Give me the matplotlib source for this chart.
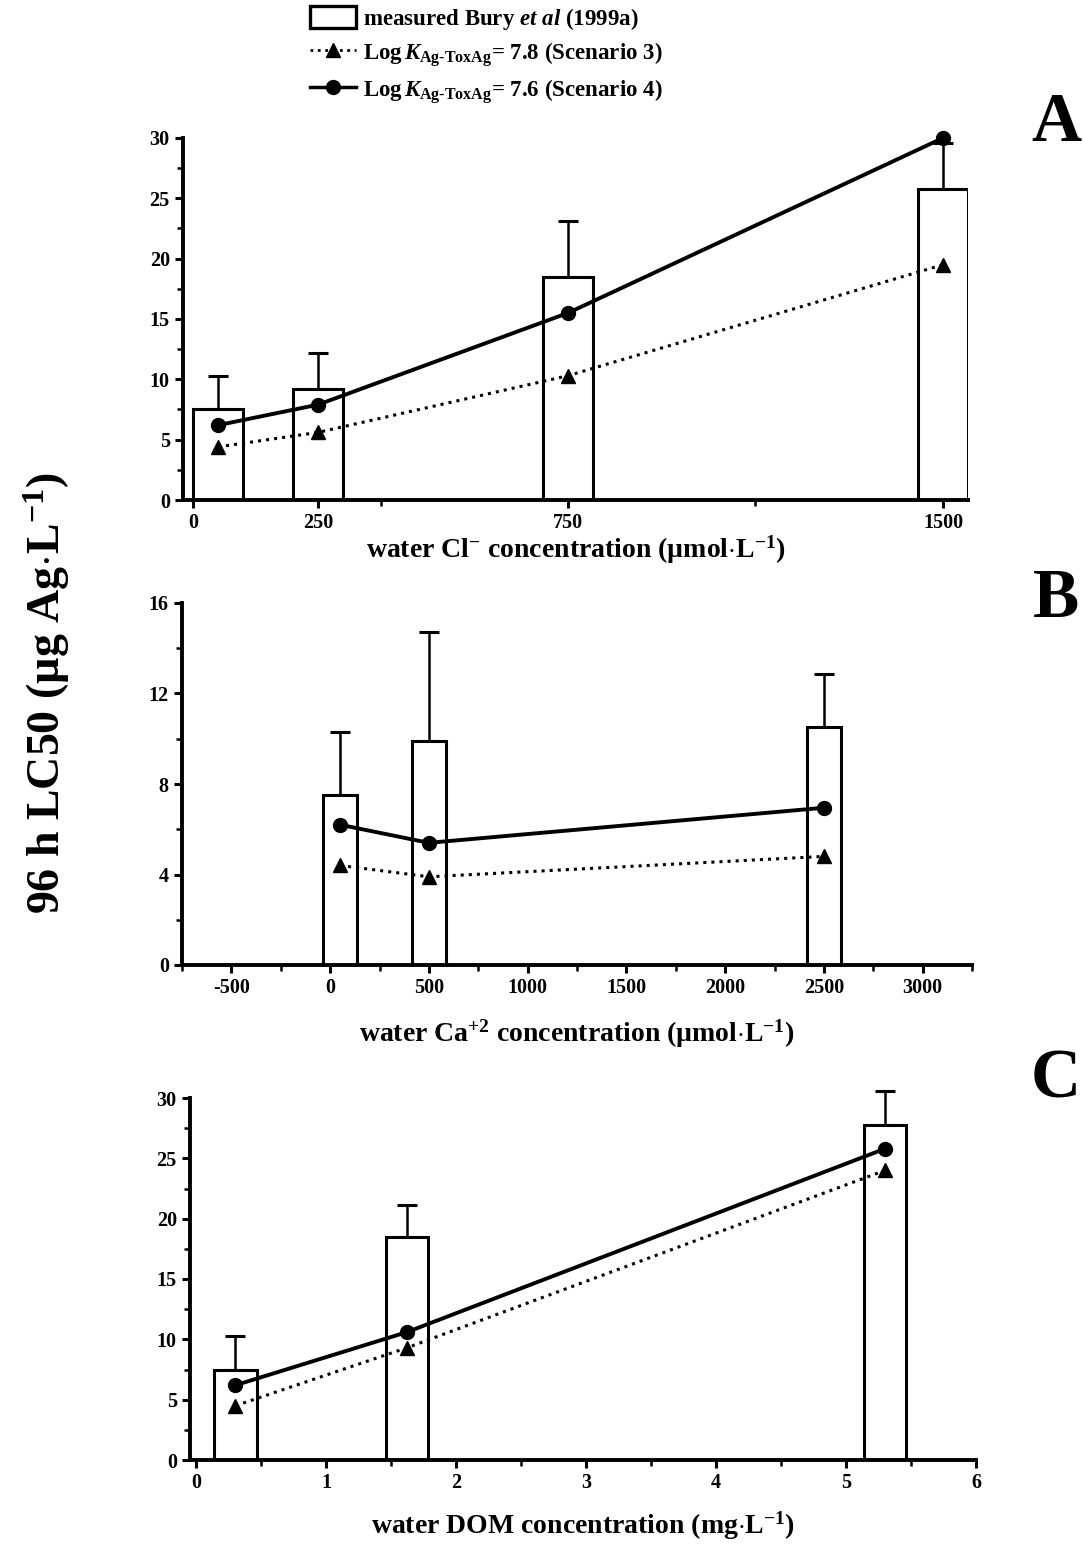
import matplotlib
matplotlib.use("Agg")
import matplotlib.pyplot as plt
from matplotlib.lines import Line2D
from matplotlib.patches import Patch
from matplotlib.ticker import FixedLocator, MultipleLocator

plt.rcParams['font.family'] = ['Liberation Serif', 'DejaVu Serif']
plt.rcParams['font.weight'] = 'bold'
plt.rcParams['axes.unicode_minus'] = False
plt.rcParams['mathtext.fontset'] = 'custom'
plt.rcParams['mathtext.rm'] = 'Liberation Serif:bold'
plt.rcParams['mathtext.it'] = 'Liberation Serif:italic:bold'
plt.rcParams['mathtext.bf'] = 'Liberation Serif:bold'

# Panel A: chloride
cl_x = [50, 250, 750, 1500]
cl_measured = [7.5, 9.2, 18.5, 25.8]
cl_err = [2.8, 3.0, 4.6, 3.8]
cl_s3 = [4.4, 5.6, 10.3, 19.5]
cl_s4 = [6.2, 7.9, 15.5, 30.0]

# Panel B: calcium
ca_x = [50, 500, 2500]
ca_measured = [7.5, 9.9, 10.5]
ca_err = [2.8, 4.8, 2.35]
ca_s3 = [4.4, 3.9, 4.8]
ca_s4 = [6.2, 5.4, 6.95]

# Panel C: DOM
dom_x = [0.3, 1.62, 5.3]
dom_measured = [7.5, 18.5, 27.8]
dom_err = [2.8, 2.6, 2.8]
dom_s3 = [4.5, 9.3, 24.0]
dom_s4 = [6.2, 10.6, 25.8]

fig = plt.figure(figsize=(10.83, 15.47), dpi=100)
W, H = 1083, 1547

def add_ax(left, top, right, bottom):
    return fig.add_axes([left / W, 1 - bottom / H, (right - left) / W, (bottom - top) / H])

axA = add_ax(183, 138, 968, 500)
axB = add_ax(182, 603, 972, 965)
axC = add_ax(190, 1098, 976, 1460)

def draw(ax, x, meas, err, s3, s4, width):
    ax.bar(x, meas, width=width, facecolor='white', edgecolor='black', linewidth=2.2, zorder=2)
    ax.errorbar(x, meas, yerr=[[0] * len(err), err], fmt='none', ecolor='black',
                elinewidth=1.8, capsize=7, capthick=2.2, zorder=1, clip_on=False)
    ax.plot(x, s3, linestyle=':', color='black', linewidth=2.2, marker='^', markersize=10,
            zorder=3, clip_on=False)
    ax.plot(x, s4, linestyle='-', color='black', linewidth=2.8, marker='o', markersize=10,
            zorder=4, clip_on=False)
    for s in ['top', 'right']:
        ax.spines[s].set_visible(False)
    for s in ['left', 'bottom']:
        ax.spines[s].set_linewidth(2.8)
    ax.tick_params(axis='both', which='major', direction='out', length=6, width=2.2,
                   labelsize=14.5)
    ax.tick_params(axis='both', which='minor', direction='out', length=4, width=1.8)
    for lab in ax.get_xticklabels() + ax.get_yticklabels():
        lab.set_fontweight('bold')

# Panel A
draw(axA, cl_x, cl_measured, cl_err, cl_s3, cl_s4, 100)
axA.set_xlim(-20, 1550)
axA.set_ylim(0, 30)
axA.xaxis.set_major_locator(FixedLocator([0, 250, 750, 1500]))
axA.xaxis.set_minor_locator(FixedLocator([375, 1125]))
axA.yaxis.set_major_locator(MultipleLocator(5))
axA.yaxis.set_minor_locator(MultipleLocator(2.5))
axA.set_xlabel(r"water Cl$^{-}$ concentration (µmol$\cdot$L$^{-1}$)", fontsize=20,
               fontweight='bold', labelpad=0)

# Panel B
draw(axB, ca_x, ca_measured, ca_err, ca_s3, ca_s4, 170)
axB.set_xlim(-750, 3250)
axB.set_ylim(0, 16)
axB.xaxis.set_major_locator(MultipleLocator(500))
axB.xaxis.set_minor_locator(MultipleLocator(250))
axB.yaxis.set_major_locator(MultipleLocator(4))
axB.yaxis.set_minor_locator(MultipleLocator(2))
axB.set_xlabel(r"water Ca$^{+2}$ concentration (µmol$\cdot$L$^{-1}$)", fontsize=20,
               fontweight='bold', labelpad=14)

# Panel C
draw(axC, dom_x, dom_measured, dom_err, dom_s3, dom_s4, 0.33)
axC.set_xlim(-0.05, 6)
axC.set_ylim(0, 30)
axC.xaxis.set_major_locator(MultipleLocator(1))
axC.xaxis.set_minor_locator(MultipleLocator(0.5))
axC.yaxis.set_major_locator(MultipleLocator(5))
axC.yaxis.set_minor_locator(MultipleLocator(2.5))
axC.set_xlabel(r"water DOM concentration (mg$\cdot$L$^{-1}$)", fontsize=20,
               fontweight='bold', labelpad=12)

# Panel letters
for letter, yc in [('A', 124), ('B', 600), ('C', 1080)]:
    fig.text(1056 / W, 1 - yc / H, letter, fontsize=50, fontweight='bold',
             ha='center', va='center')

# Y label
fig.text(47 / W, 1 - 693 / H, r"96 h LC50 (µg Ag$\cdot$L$^{-1}$)", fontsize=33,
         fontweight='bold', rotation=90, ha='center', va='center')

# Legend
handles = [
    Patch(facecolor='white', edgecolor='black', linewidth=2.4),
    Line2D([], [], linestyle=':', color='black', linewidth=2, marker='^', markersize=10),
    Line2D([], [], linestyle='-', color='black', linewidth=2.5, marker='o', markersize=10),
]
labels = [
    r"measured Bury $\mathit{et\ al}$ (1999a)",
    r"Log$\,\mathit{K}_{\mathrm{Ag\text{-}ToxAg}}$= 7.8 (Scenario 3)",
    r"Log$\,\mathit{K}_{\mathrm{Ag\text{-}ToxAg}}$= 7.6 (Scenario 4)",
]
leg = fig.legend(handles, labels, loc='upper left', bbox_to_anchor=(310 / W, 1 - 6 / H),
                 frameon=False, fontsize=16.5, handlelength=2.0, handleheight=1.1,
                 handletextpad=0.3, labelspacing=0.35, borderaxespad=0, borderpad=0)

fig.savefig('out.png', dpi=100)
